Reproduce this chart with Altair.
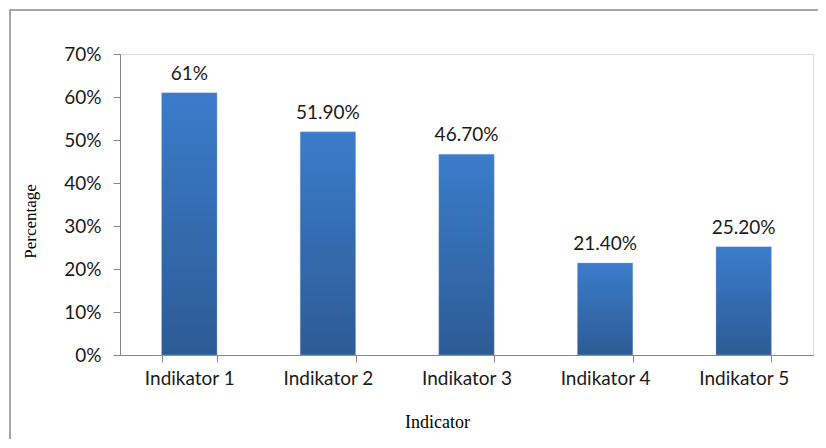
import altair as alt
import pandas as pd

categories = ["Indikator 1", "Indikator 2", "Indikator 3", "Indikator 4", "Indikator 5"]
values = [0.61, 0.519, 0.467, 0.214, 0.252]
labels = ["61%", "51.90%", "46.70%", "21.40%", "25.20%"]

df = pd.DataFrame({"cat": categories, "val": values, "lab": labels})

FONT = "Lato"
SERIF = "Liberation Serif"
FS = 19

xenc = alt.X(
    "cat:N", sort=categories,
    scale=alt.Scale(paddingInner=0.6, paddingOuter=0.3),
    axis=alt.Axis(
        title="Indicator", titleFont=SERIF, titleFontSize=18, titleFontWeight="normal",
        titleColor="#000000", titleX=317, titleY=67, titleBaseline="middle",
        labelAngle=0, labelFont=FONT, labelFontSize=FS, labelColor="#1a1a1a",
        labelPadding=7, tickBand="extent", tickSize=7, tickColor="#868686",
        domainColor="#868686", labelBaseline="top",
    ),
)

bars = alt.Chart(df).mark_bar(
    color=alt.Gradient(
        gradient="linear",
        stops=[alt.GradientStop(color="#3B7CCB", offset=0),
               alt.GradientStop(color="#2D5B95", offset=1)],
        x1=0, x2=0, y1=0, y2=1,
    ),
    stroke="#9fbbe0", strokeWidth=0.6, strokeOpacity=0.6,
).encode(
    x=xenc,
    y=alt.Y(
        "val:Q",
        scale=alt.Scale(domain=[0, 0.7], nice=False),
        axis=alt.Axis(
            title="Percentage", titleFont=SERIF, titleFontSize=17, titleFontWeight="normal",
            titleColor="#000000", titleX=-90, titleY=167, titleAngle=-90,
            titleAlign="center", titleBaseline="middle",
            format=".0%", values=[0, 0.1, 0.2, 0.3, 0.4, 0.5, 0.6, 0.7],
            labelFont=FONT, labelFontSize=FS, labelColor="#1a1a1a", labelPadding=12,
            tickSize=7, tickColor="#868686", domainColor="#868686", grid=False,
        ),
    ),
)

text = alt.Chart(df).mark_text(
    font=FONT, fontSize=FS, color="#1a1a1a", baseline="bottom", dy=-9,
).encode(
    x=alt.X("cat:N", sort=categories),
    y="val:Q",
    text="lab:N",
)

frame = alt.Chart(df).mark_rect(
    fill=None, stroke="#a6a6a6", strokeWidth=1.2,
).encode(
    x=alt.value(-110), x2=alt.value(900),
    y=alt.value(-44), y2=alt.value(600),
)

chart = alt.layer(frame, bars, text).properties(
    width=693, height=301,
    padding={"left": 112, "top": 46, "right": 5, "bottom": 84},
    autosize=alt.AutoSizeParams(type="none"),
).configure_view(stroke=None).configure(background="#ffffff")

chart.save("out.html", embed_options={"renderer": "svg", "actions": False})
